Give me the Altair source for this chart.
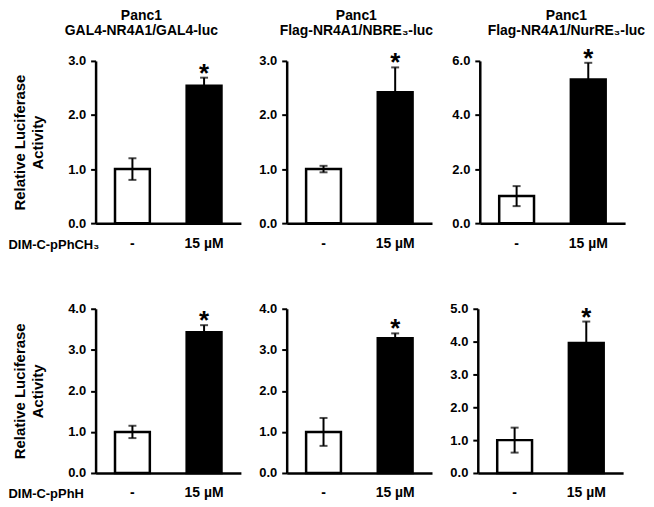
import altair as alt
import pandas as pd

# ---------------- data ----------------
doses = ["-", "15 µM"]
title_line1 = ["Panc1", "Panc1", "Panc1"]
title_line2 = ["GAL4-NR4A1/GAL4-luc", "Flag-NR4A1/NBRE₃-luc", "Flag-NR4A1/NurRE₃-luc"]
row_labels = ["DIM-C-pPhCH₃", "DIM-C-pPhH"]
y_title = ["Relative Luciferase", "Activity"]

means = [
    [1.00, 2.54], [1.00, 2.42], [1.00, 5.31],
    [1.00, 3.43], [1.00, 3.28], [1.00, 3.96],
]
errors = [
    [0.20, 0.15], [0.06, 0.46], [0.37, 0.62],
    [0.15, 0.17], [0.34, 0.12], [0.38, 0.65],
]
signif = [["", "*"]] * 6
y_max = [3, 3, 6, 4, 4, 5]
y_ticks = [[0, 1, 2, 3], [0, 1, 2, 3], [0, 2, 4, 6],
           [0, 1, 2, 3, 4], [0, 1, 2, 3, 4], [0, 1, 2, 3, 4, 5]]

# ---------------- style ----------------
FONT = "Liberation Sans"
W = 146
HEIGHTS = [163, 165]
title_cx = [46, 70, 87]


def panel(i):
    col = i % 3
    row = i // 3
    H = HEIGHTS[row]
    df = pd.DataFrame({
        "dose": doses,
        "mean": means[i],
        "lo": [m - e for m, e in zip(means[i], errors[i])],
        "hi": [m + e for m, e in zip(means[i], errors[i])],
        "sig": signif[i],
    })

    xaxis = dict(labelAngle=0, ticks=False, domain=True, domainColor="black",
                 domainWidth=2.5, labelFont=FONT, labelFontSize=14,
                 labelFontWeight="bold", labelColor="black", labelPadding=13)
    if col == 0:
        xaxis.update(title=row_labels[row], titleX=-88, titleY=21, titleAlign="left",
                     titleBaseline="middle", titleFont=FONT, titleFontSize=13,
                     titleFontWeight="bold", titleColor="black")
    else:
        xaxis.update(title="")

    yaxis = dict(values=y_ticks[i], format=".1f", grid=False, domain=True,
                 domainColor="black", domainWidth=2.5, ticks=True, tickSize=5,
                 tickWidth=2, tickColor="black", labelFont=FONT, labelFontSize=13,
                 labelFontWeight="bold", labelColor="black", labelPadding=5,
                 labelOverlap=False, tickCount=len(y_ticks[i]))
    if col == 0:
        yaxis.update(title=y_title, titleFont=FONT, titleFontSize=15,
                     titleFontWeight="bold", titleColor="black", titleAngle=-90,
                     titleX=-76, titleY=H / 2, titleAlign="center",
                     titleBaseline="middle", titleLineHeight=18)
    else:
        yaxis.update(title="")

    xscale = alt.Scale(paddingInner=0.514, paddingOuter=0.271)
    yscale = alt.Scale(domain=[0, y_max[i]], nice=False, zero=True)
    xa = alt.Axis(**xaxis)
    ya = alt.Axis(**yaxis)

    base = alt.Chart(df)
    xo = alt.X("dose:N", sort=doses, scale=xscale, axis=xa)
    bars = base.mark_bar(stroke="black", strokeWidth=2.5).encode(
        x=xo,
        y=alt.Y("mean:Q", scale=yscale, axis=ya),
        color=alt.Color("dose:N", scale=alt.Scale(domain=doses, range=["white", "black"]),
                        legend=None),
    )
    rule = base.mark_rule(color="black", strokeWidth=2).encode(
        x=xo, y=alt.Y("lo:Q", scale=yscale, axis=ya), y2="hi:Q")
    cap_hi = base.mark_tick(color="black", thickness=2, size=8).encode(
        x=xo, y=alt.Y("hi:Q", scale=yscale, axis=ya))
    cap_lo = base.mark_tick(color="black", thickness=2, size=8).encode(
        x=xo, y=alt.Y("lo:Q", scale=yscale, axis=ya))
    star = base.transform_filter(alt.datum.sig != "").mark_text(
        font=FONT, fontSize=26, fontWeight="bold", baseline="alphabetic", dy=4,
        color="black").encode(
        x=xo, y=alt.Y("hi:Q", scale=yscale, axis=ya), text="sig:N")

    layers = [bars, rule, cap_hi, cap_lo, star]
    if row == 0:
        t1 = alt.Chart(pd.DataFrame({"t": [title_line1[col]]})).mark_text(
            font=FONT, fontSize=14, fontWeight="bold", align="center",
            baseline="alphabetic", color="black").encode(
            x=alt.value(title_cx[col]), y=alt.value(-41), text="t:N")
        t2 = alt.Chart(pd.DataFrame({"t": [title_line2[col]]})).mark_text(
            font=FONT, fontSize=14, fontWeight="bold", align="center",
            baseline="alphabetic", color="black").encode(
            x=alt.value(title_cx[col]), y=alt.value(-26), text="t:N")
        layers += [t1, t2]
    return alt.layer(*layers).properties(width=W, height=H)


row1 = alt.hconcat(panel(0), panel(1), panel(2), spacing=17)
row2 = alt.hconcat(panel(3), panel(4), panel(5), spacing=17)

chart = alt.vconcat(row1, row2, spacing=52).properties(
    padding={"left": 0, "top": 0, "right": 0, "bottom": 0}
).configure_view(stroke=None).configure_axis(grid=False)

chart.save("out.html", embed_options={"renderer": "svg", "actions": False})
